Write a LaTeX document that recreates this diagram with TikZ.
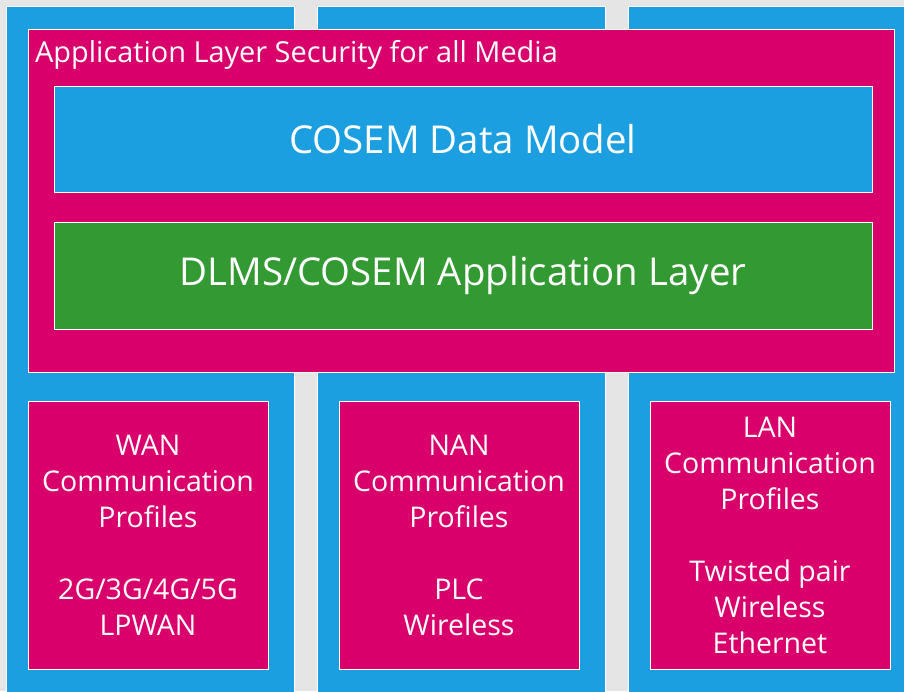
\documentclass[tikz,border=0pt]{standalone}
\usepackage{fontspec}
\setmainfont{Open Sans}
\definecolor{pagegray}{HTML}{E5E5E5}
\definecolor{skyblue}{HTML}{1C9FE0}
\definecolor{telemag}{HTML}{D9006C}
\definecolor{leafgreen}{HTML}{339A33}
\tikzset{
  panel/.style={rectangle, draw=white, line width=0.8pt, inner sep=0pt, outer sep=0pt},
  column/.style={panel, fill=skyblue},
  magbox/.style={panel, fill=telemag},
  layerbox/.style={panel, text=white, font=\fontsize{38.4}{44}\selectfont},
  profile/.style={magbox, text=white, align=center, font=\fontsize{28.5}{36}\selectfont},
}
\begin{document}
\begin{tikzpicture}[x=1pt, y=-1pt]
  \useasboundingbox (0,0) rectangle (904,691);
  \clip (0,0) rectangle (904,691);
  \fill[pagegray] (0,0) rectangle (904,691);

  % three media columns
  \node[column, minimum width=288pt, minimum height=694pt] (colA) at (150,353) {};
  \node[column, minimum width=288pt, minimum height=694pt] (colB) at (461,353) {};
  \node[column, minimum width=288pt, minimum height=694pt] (colC) at (772,353) {};

  % security frame spanning all media
  \node[magbox, minimum width=866pt, minimum height=343pt] (sec) at (461,200.5) {};
  \node[text=white, inner sep=0pt, anchor=base west,
        font=\fontsize{28.9}{34}\selectfont] (sectitle) at (35,62.5)
        {Application Layer Security for all Media};

  \node[layerbox, fill=skyblue, minimum width=818pt, minimum height=106pt] (cosem) at (463,139)
        {COSEM Data Model};
  \node[layerbox, fill=leafgreen, minimum width=818pt, minimum height=107pt] (dlms) at (463,275.5)
        {DLMS/COSEM Application Layer};

  % communication profiles
  \node[profile, minimum width=240pt, minimum height=268pt] (wan) at (148,535)
        {WAN\\Communication\\Profiles\\[36pt]2G/3G/4G/5G\\LPWAN};
  \node[profile, minimum width=240pt, minimum height=268pt] (nan) at (459,535)
        {NAN\\Communication\\Profiles\\[36pt]PLC\\Wireless};
  \node[profile, minimum width=240pt, minimum height=268pt] (lan) at (770,535)
        {LAN\\Communication\\Profiles\\[36pt]Twisted pair\\Wireless\\Ethernet};
\end{tikzpicture}
\end{document}
